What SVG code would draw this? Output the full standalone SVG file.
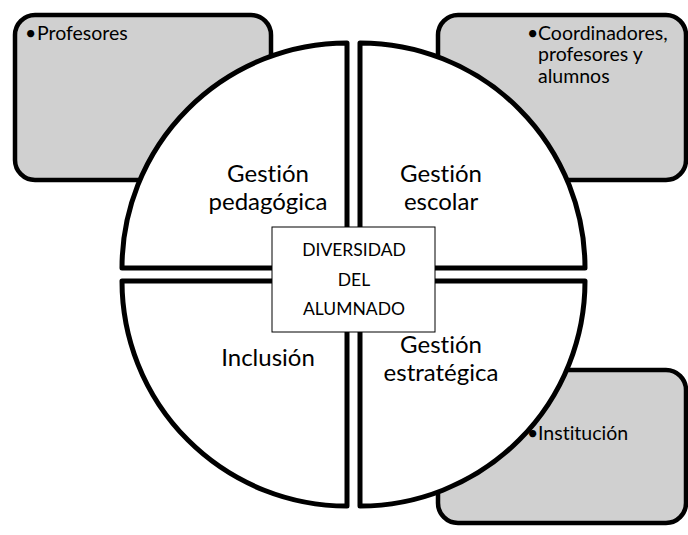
<svg xmlns="http://www.w3.org/2000/svg" width="688" height="535" viewBox="0 0 688 535">
<style>
.box{fill:#d0d0d0;stroke:#000;stroke-width:4.5}
.q{fill:#fff;stroke:#000;stroke-width:5;stroke-linejoin:round}
.t{font-family:Lato,"Open Sans",sans-serif;fill:#000;font-variant-ligatures:none}
.s{font-size:19.5px}
.m{font-size:24px;text-anchor:middle}
.c{font-size:17.5px;text-anchor:middle}
</style>
<rect width="688" height="535" fill="#fff"/>
<g id="box-profesores"><rect class="box" x="15" y="15" width="256" height="165" rx="20"/></g>
<g id="box-coordinadores"><rect class="box" x="438" y="15" width="248" height="165" rx="20"/></g>
<g id="box-institucion"><rect class="box" x="438" y="370" width="248" height="153" rx="20"/></g>
<g id="connectors"></g>
<g id="q-pedagogica"><path class="q" d="M347,268 L122,268 A225,225 0 0 1 347,43 Z"/>
<text class="t m" x="268" y="182">Gestión</text><text class="t m" x="268" y="210">pedagógica</text></g>
<g id="q-escolar"><path class="q" d="M360,268 L360,43 A225,225 0 0 1 585,268 Z"/>
<text class="t m" x="441" y="182">Gestión</text><text class="t m" x="441" y="210">escolar</text></g>
<g id="q-estrategica"><path class="q" d="M360,281 L585,281 A225,225 0 0 1 360,506 Z"/>
<text class="t m" x="441" y="353">Gestión</text><text class="t m" x="441" y="381">estratégica</text></g>
<g id="q-inclusion"><path class="q" d="M347,281 L347,506 A225,225 0 0 1 122,281 Z"/>
<text class="t m" x="268" y="366">Inclusión</text></g>
<g id="centro"><rect x="272" y="227" width="163" height="105" fill="#fff" stroke="#000" stroke-width="1"/>
<text class="t c" x="354" y="256">DIVERSIDAD</text><text class="t c" x="354" y="286">DEL</text><text class="t c" x="354" y="315">ALUMNADO</text></g>
<g id="label-profesores"><text class="t s" x="25" y="40">•</text><text class="t s" x="37" y="40">Profesores</text></g>
<g id="label-coordinadores"><text class="t s" x="527" y="40">•</text><text class="t s" x="538" y="40">Coordinadores,</text><text class="t s" x="538" y="61">profesores y</text><text class="t s" x="538" y="83">alumnos</text></g>
<g id="label-institucion"><text class="t s" x="527" y="440">•</text><text class="t s" x="538" y="440">Institución</text></g>
</svg>
